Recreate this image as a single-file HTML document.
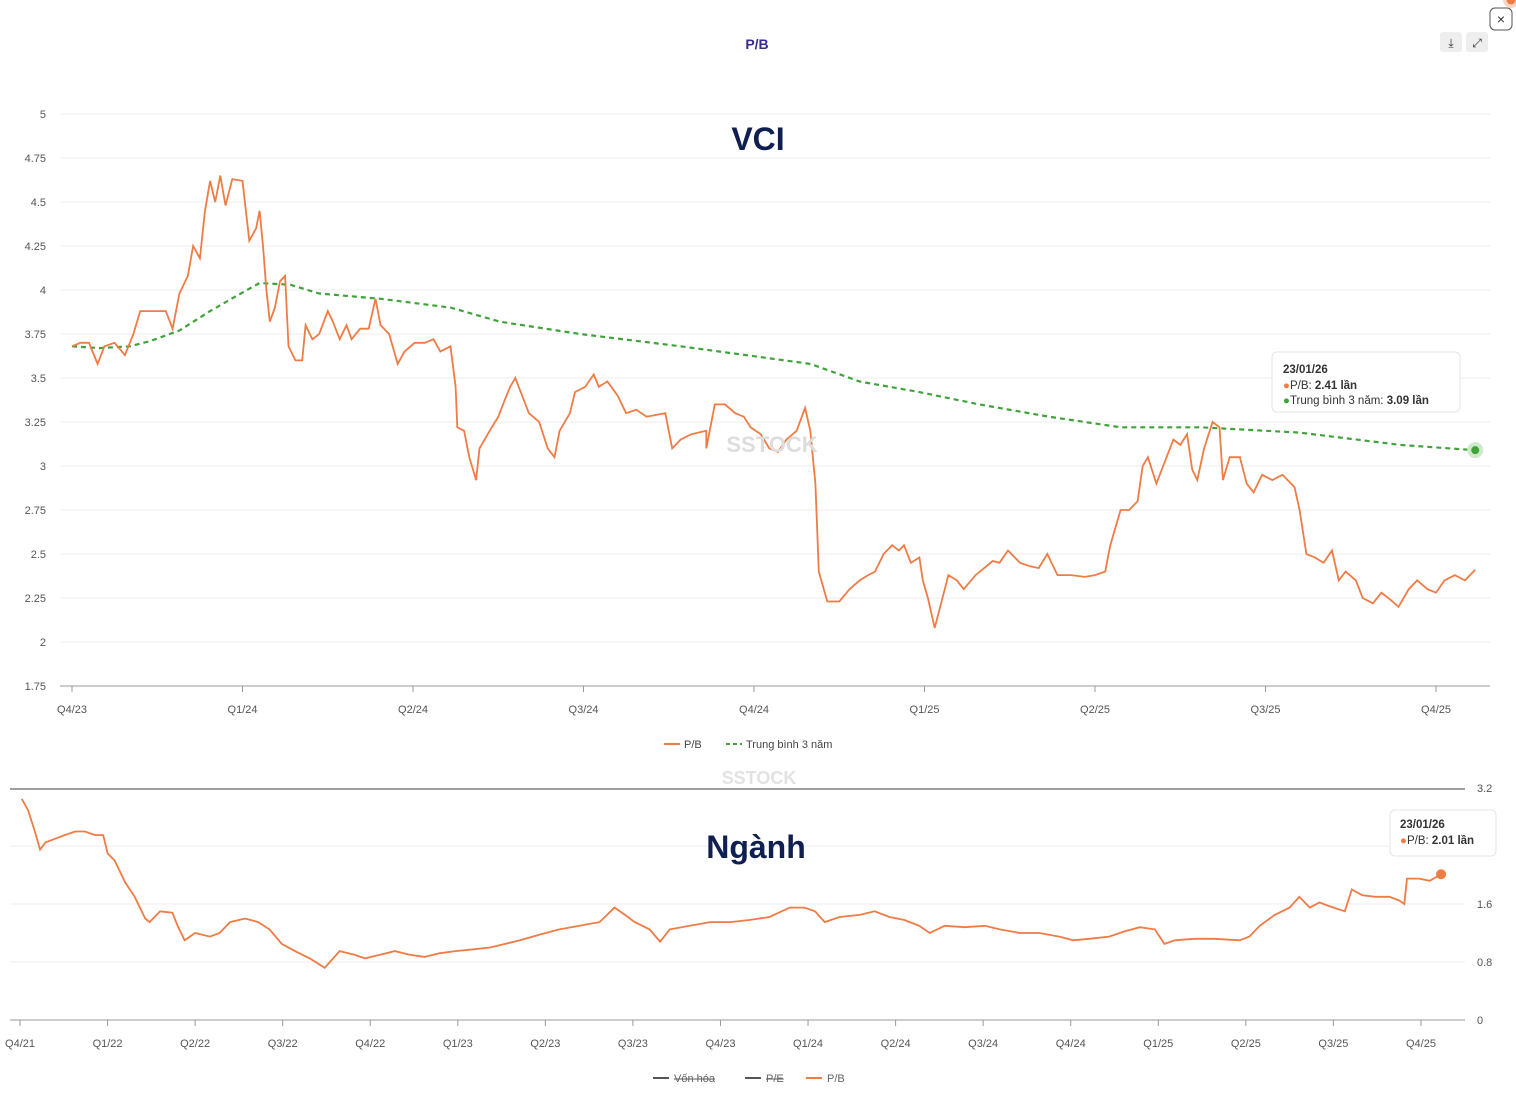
<!DOCTYPE html>
<html><head><meta charset="utf-8"><style>
body{margin:0;background:#fff;font-family:"Liberation Sans",sans-serif;}
svg text{font-family:"Liberation Sans","Noto Sans CJK SC",sans-serif;}
</style></head><body>
<svg id="c" width="1516" height="1090" xmlns="http://www.w3.org/2000/svg">
<text x="757" y="49" text-anchor="middle" font-size="14" font-weight="bold" fill="#3b2b8f">P/B</text>
<g><rect x="1490" y="8" width="22" height="22" rx="5" fill="none" stroke="#555"/><text x="1501" y="24" text-anchor="middle" font-size="14" fill="#333">×</text></g>
<g><rect x="1440" y="32" width="22" height="20" rx="3" fill="#eee"/><text x="1451" y="47" text-anchor="middle" font-size="12" fill="#333">⤓</text></g>
<g><rect x="1466" y="32" width="22" height="20" rx="3" fill="#eee"/><text x="1477" y="47" text-anchor="middle" font-size="12" fill="#333">⤢</text></g>
<g id="g"></g>
<text x="758" y="150" text-anchor="middle" font-size="32" font-weight="bold" fill="#0f1f4f">VCI</text>
<text x="756" y="858" text-anchor="middle" font-size="32" font-weight="bold" fill="#0f1f4f">Ngành</text>
<text x="772" y="452" text-anchor="middle" font-size="22" font-weight="bold" fill="#ddd">SSTOCK</text>
<text x="759" y="784" text-anchor="middle" font-size="18" font-weight="bold" fill="#e2e2e2">SSTOCK</text>
</svg>
<script>
const NS="http://www.w3.org/2000/svg";
const topTicks=[1.75,2,2.25,2.5,2.75,3,3.25,3.5,3.75,4,4.25,4.5,4.75,5];
const topQuarters=["Q4/23","Q1/24","Q2/24","Q3/24","Q4/24","Q1/25","Q2/25","Q3/25","Q4/25"];
const pbT=[0,.05,.1,.15,.19,.25,.31,.36,.4,.55,.59,.63,.68,.71,.75,.78,.81,.84,.87,.9,.94,1.0,1.04,1.08,1.1,1.12,1.14,1.16,1.19,1.22,1.25,1.27,1.31,1.35,1.37,1.41,1.45,1.5,1.53,1.57,1.61,1.64,1.69,1.74,1.78,1.81,1.86,1.91,1.95,2.01,2.07,2.12,2.16,2.22,2.25,2.26,2.3,2.33,2.37,2.39,2.45,2.5,2.54,2.57,2.6,2.64,2.68,2.74,2.79,2.83,2.86,2.92,2.95,3.01,3.06,3.09,3.14,3.2,3.25,3.31,3.37,3.48,3.52,3.57,3.63,3.72,3.72,3.77,3.83,3.89,3.94,3.98,4.04,4.09,4.14,4.19,4.25,4.3,4.33,4.36,4.38,4.43,4.5,4.56,4.62,4.67,4.71,4.76,4.81,4.85,4.88,4.92,4.97,4.99,5.02,5.06,5.14,5.19,5.23,5.3,5.35,5.4,5.44,5.49,5.56,5.62,5.67,5.72,5.78,5.86,5.94,6.0,6.06,6.09,6.15,6.2,6.25,6.28,6.31,6.36,6.42,6.46,6.5,6.54,6.57,6.6,6.64,6.69,6.73,6.75,6.79,6.85,6.89,6.93,6.98,7.04,7.1,7.17,7.2,7.24,7.29,7.34,7.39,7.43,7.47,7.53,7.57,7.63,7.68,7.72,7.78,7.84,7.89,7.95,8.0,8.05,8.11,8.17,8.23,8.29,8.34,8.38,8.44];
const pbV=[3.68,3.7,3.7,3.58,3.68,3.7,3.63,3.75,3.88,3.88,3.78,3.98,4.08,4.25,4.18,4.45,4.62,4.5,4.65,4.48,4.63,4.62,4.28,4.35,4.45,4.25,4.0,3.82,3.9,4.05,4.08,3.68,3.6,3.6,3.8,3.72,3.75,3.88,3.82,3.72,3.8,3.72,3.78,3.78,3.95,3.8,3.75,3.58,3.65,3.7,3.7,3.72,3.65,3.68,3.45,3.22,3.2,3.05,2.92,3.1,3.2,3.28,3.38,3.45,3.5,3.4,3.3,3.25,3.1,3.05,3.2,3.3,3.42,3.45,3.52,3.45,3.48,3.4,3.3,3.32,3.28,3.3,3.1,3.15,3.18,3.2,3.1,3.35,3.35,3.3,3.28,3.22,3.18,3.1,3.08,3.15,3.2,3.33,3.2,2.9,2.4,2.23,2.23,2.3,2.35,2.38,2.4,2.5,2.55,2.52,2.55,2.45,2.48,2.35,2.25,2.08,2.38,2.35,2.3,2.38,2.42,2.46,2.45,2.52,2.45,2.43,2.42,2.5,2.38,2.38,2.37,2.38,2.4,2.55,2.75,2.75,2.8,3.0,3.05,2.9,3.05,3.15,3.12,3.18,2.98,2.92,3.1,3.25,3.22,2.92,3.05,3.05,2.9,2.85,2.95,2.92,2.95,2.88,2.75,2.5,2.48,2.45,2.52,2.35,2.4,2.35,2.25,2.22,2.28,2.25,2.2,2.3,2.35,2.3,2.28,2.35,2.38,2.35,2.41];
const avgT=[0,.16,.34,.46,.63,.81,.99,1.1,1.28,1.45,1.81,2.22,2.51,2.98,3.57,4.03,4.33,4.62,4.97,5.32,5.73,6.15,6.62,7.2,7.79,8.23];
const avgV=[3.68,3.67,3.68,3.71,3.77,3.88,3.98,4.04,4.03,3.98,3.95,3.9,3.82,3.75,3.68,3.62,3.58,3.48,3.42,3.35,3.28,3.22,3.22,3.19,3.12,3.09];
const botTicks=[0,0.8,1.6,3.2];
const botQuarters=["Q4/21","Q1/22","Q2/22","Q3/22","Q4/22","Q1/23","Q2/23","Q3/23","Q4/23","Q1/24","Q2/24","Q3/24","Q4/24","Q1/25","Q2/25","Q3/25","Q4/25"];
const secT=[0.02,.09,.17,.23,.29,.4,.51,.63,.74,.86,.95,1.0,1.08,1.2,1.31,1.43,1.48,1.6,1.74,1.8,1.88,2.0,2.17,2.28,2.4,2.57,2.72,2.85,2.99,3.14,3.31,3.48,3.65,3.82,3.94,4.11,4.28,4.45,4.62,4.79,4.97,5.14,5.37,5.54,5.71,5.94,6.16,6.39,6.62,6.79,6.91,7.02,7.19,7.31,7.42,7.65,7.88,8.11,8.33,8.56,8.79,8.96,9.08,9.19,9.36,9.59,9.76,9.93,10.1,10.27,10.39,10.56,10.79,11.02,11.19,11.42,11.64,11.87,12.03,12.21,12.44,12.61,12.79,12.96,13.07,13.19,13.41,13.64,13.93,14.04,14.16,14.33,14.5,14.61,14.73,14.84,15.0,15.13,15.21,15.33,15.48,15.64,15.75,15.81,15.84,15.98,16.1,16.23];
const secV=[3.05,2.9,2.6,2.35,2.45,2.5,2.55,2.6,2.6,2.55,2.55,2.3,2.2,1.9,1.7,1.4,1.35,1.5,1.48,1.3,1.1,1.2,1.15,1.2,1.35,1.4,1.35,1.25,1.05,0.95,0.85,0.72,0.95,0.9,0.85,0.9,0.95,0.9,0.87,0.92,0.95,0.97,1.0,1.05,1.1,1.18,1.25,1.3,1.35,1.55,1.45,1.35,1.25,1.08,1.25,1.3,1.35,1.35,1.38,1.42,1.55,1.55,1.5,1.35,1.42,1.45,1.5,1.42,1.38,1.3,1.2,1.3,1.28,1.3,1.25,1.2,1.2,1.15,1.1,1.12,1.15,1.22,1.28,1.25,1.05,1.1,1.12,1.12,1.1,1.15,1.3,1.45,1.55,1.7,1.55,1.62,1.55,1.5,1.8,1.72,1.7,1.7,1.65,1.6,1.95,1.95,1.92,2.01];

const g=document.getElementById('g');
function el(tag,attrs,parent){const e=document.createElementNS(NS,tag);for(const k in attrs)e.setAttribute(k,attrs[k]);(parent||g).appendChild(e);return e;}
const tx=t=>72+t*170.5, ty=v=>686-(v-1.75)*176;
const bx=t=>20+t*87.56, by=v=>1020-v*72.5;

topTicks.forEach(v=>{
  const l=el('line',{x1:60,x2:1490,y1:ty(v),y2:ty(v),stroke:v===1.75?'#999':'#ececec','stroke-width':1});
  
  
  const t=el('text',{x:46,y:ty(v)+4,'text-anchor':'end','font-size':11,fill:'#555'});t.textContent=String(v);
  
  
});
topQuarters.forEach((q,i)=>{
  const tk=el('line',{x1:tx(i),x2:tx(i),y1:686,y2:692,stroke:'#999'});
  
  
  const t=el('text',{x:tx(i),y:713,'text-anchor':'middle','font-size':11,fill:'#555'});t.textContent=q;
  
  
});
const avgPath=el('path',{d:avgT.map((t,i)=>(i?'L':'M')+tx(t).toFixed(1)+','+ty(avgV[i]).toFixed(1)).join(''),fill:'none',stroke:'#3fa33a','stroke-width':2.2,'stroke-dasharray':'5,4'});


const pbPath=el('path',{d:pbT.map((t,i)=>(i?'L':'M')+tx(t).toFixed(1)+','+ty(pbV[i]).toFixed(1)).join(''),fill:'none',stroke:'#ef7b45','stroke-width':1.8});


const la=avgT.length-1, lp=pbT.length-1;
el('circle',{cx:tx(avgT[la]),cy:ty(avgV[la]),r:8,fill:'#cfe9cc'});
const ad=el('circle',{cx:tx(avgT[la]),cy:ty(avgV[la]),r:4,fill:'#3fa33a'});


el('circle',{cx:tx(pbT[lp]),cy:ty(pbV[lp]),r:8,fill:'#fbd6c4'});
const pd=el('circle',{cx:tx(pbT[lp]),cy:ty(pbV[lp]),r:4.5,fill:'#ef7b45'});


const tt=el('g',{});


el('rect',{x:1272,y:352,width:188,height:60,rx:5,fill:'#fff',stroke:'#e4e4e4'},tt);
let q1=el('text',{x:1283,y:373,'font-size':11.5,'font-weight':'bold',fill:'#333'},tt);q1.textContent='23/01/26';
let q2=el('text',{x:1283,y:389,'font-size':11.5,fill:'#333'},tt);q2.innerHTML='<tspan fill="#ef7b45">●</tspan>P/B: <tspan font-weight="bold">2.41 lần</tspan>';
let q3=el('text',{x:1283,y:404,'font-size':11.5,fill:'#333'},tt);q3.innerHTML='<tspan fill="#3fa33a">●</tspan>Trung bình 3 năm: <tspan font-weight="bold">3.09 lần</tspan>';
const lg=el('g',{});


el('line',{x1:664,x2:680,y1:744,y2:744,stroke:'#ef7b45','stroke-width':2},lg);
let t1=el('text',{x:684,y:748,'font-size':11,fill:'#444'},lg);t1.textContent='P/B';
el('line',{x1:726,x2:742,y1:744,y2:744,stroke:'#3fa33a','stroke-width':2,'stroke-dasharray':'4,3'},lg);
let t2=el('text',{x:746,y:748,'font-size':11,fill:'#444'},lg);t2.textContent='Trung bình 3 năm';

el('line',{x1:10,x2:1465,y1:789,y2:789,stroke:'#666','stroke-width':1.2});
botTicks.forEach(v=>{
  if(v!==3.2){const l=el('line',{x1:10,x2:1465,y1:by(v),y2:by(v),stroke:v===0?'#999':'#ececec'});
  
  }
  const t=el('text',{x:1477,y:by(v)+4,'font-size':11,fill:'#555'});t.textContent=String(v);
  
  
});
el('line',{x1:10,x2:1465,y1:by(2.4),y2:by(2.4),stroke:'#ececec'});
botQuarters.forEach((q,i)=>{
  el('line',{x1:bx(i),x2:bx(i),y1:1020,y2:1026,stroke:'#999'});
  const t=el('text',{x:bx(i),y:1047,'text-anchor':'middle','font-size':11,fill:'#555'});t.textContent=q;
  
  
});
const sp=el('path',{d:secT.map((t,i)=>(i?'L':'M')+bx(t).toFixed(1)+','+by(secV[i]).toFixed(1)).join(''),fill:'none',stroke:'#ef7b45','stroke-width':1.8});


const ls=secT.length-1;
const sd=el('circle',{cx:bx(secT[ls]),cy:by(secV[ls]),r:5,fill:'#ef7b45'});


const bt=el('g',{});


el('rect',{x:1390,y:810,width:106,height:46,rx:5,fill:'#fff',stroke:'#e4e4e4'},bt);
let b1=el('text',{x:1400,y:828,'font-size':11.5,'font-weight':'bold',fill:'#333'},bt);b1.textContent='23/01/26';
let b2=el('text',{x:1400,y:844,'font-size':11.5,fill:'#333'},bt);b2.innerHTML='<tspan fill="#ef7b45">●</tspan>P/B: <tspan font-weight="bold">2.01 lần</tspan>';
const bl=el('g',{});


[['Vốn hóa',653,'#555'],['P/E',745,'#555'],['P/B',806,'#ef7b45']].forEach(a=>{
  el('line',{x1:a[1],x2:a[1]+16,y1:1078,y2:1078,stroke:a[2],'stroke-width':2},bl);
  const t=el('text',{x:a[1]+21,y:1082,'font-size':11,fill:'#666'},bl);t.textContent=a[0];
  if(a[0]!=='P/B')t.setAttribute('text-decoration','line-through');
});
</script>
</body></html>
